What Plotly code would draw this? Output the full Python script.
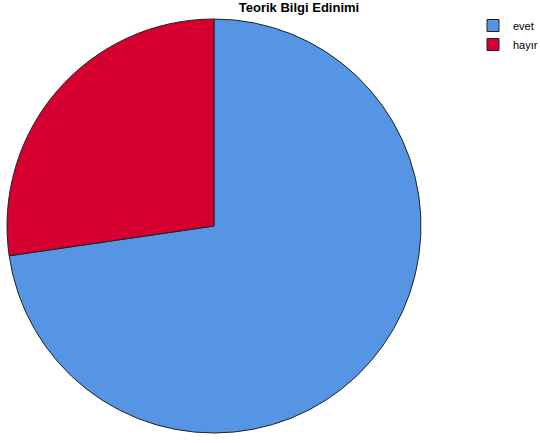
import plotly.graph_objects as go

labels = ["evet", "hayır"]
values = [72.7, 27.3]
colors = ["#5694E4", "#D5002F"]

W, H = 540, 443
fig = go.Figure(go.Pie(
    labels=labels, values=values, sort=False, direction="clockwise", rotation=0,
    marker=dict(colors=colors, line=dict(color="#222222", width=1)),
    textinfo="none", hoverinfo="label+percent",
    domain=dict(x=[7 / W, 421 / W], y=[1 - 433 / H, 1 - 19 / H]),
))
fig.update_layout(
    width=W, height=H,
    margin=dict(l=0, r=0, t=0, b=0, autoexpand=False),
    paper_bgcolor="white", plot_bgcolor="white",
    title=dict(text="<b>Teorik Bilgi Edinimi</b>", x=299 / W, xanchor="center",
               y=1 - 7 / H, yanchor="middle",
               font=dict(family="Liberation Sans, Arial", size=13, color="black")),
    legend=dict(x=473 / W, y=1 - 11 / H, xanchor="left", yanchor="top",
                font=dict(family="Liberation Sans, Arial", size=11, color="black"),
                itemwidth=30, tracegroupgap=0, bgcolor="rgba(0,0,0,0)"),
)
fig.write_html("out.html", config={"displayModeBar": False},
               post_script="document.body.style.margin='0';document.body.style.overflow='hidden';")
